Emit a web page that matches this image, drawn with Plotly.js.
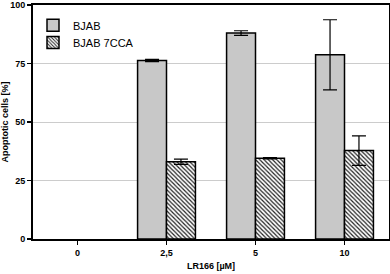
<!DOCTYPE html>
<html><head><meta charset="utf-8">
<script src="https://cdn.plot.ly/plotly-3.0.1.min.js"></script>
<style>body{margin:0;background:#fff}#c{width:390px;height:274px}</style>
</head><body><div id="c"></div>
<script>
const categories = ["0", "2,5", "5", "10"];
const bjab = [0, 76.3, 88, 78.7];
const bjabErr = [0, 0.5, 1.0, 15];
const cca = [0, 33, 34.5, 37.8];
const ccaErr = [0, 1.1, 0.3, 6.3];
const yTicks = [0, 25, 50, 75, 100];

// zero-height bars are not drawn in the original
const hideZero = (vals, ref) => vals.map((d, i) => ref[i] === 0 ? null : d);
const traces = [
  {type: "bar", name: "BJAB", x: categories, y: hideZero(bjab, bjab), legend: "legend",
   marker: {color: "#c8c8c8", line: {color: "#000", width: 1.5}},
   error_y: {type: "data", array: hideZero(bjabErr, bjab), visible: true, color: "#000", thickness: 1.2, width: 7}},
  {type: "bar", name: "BJAB 7CCA", x: categories, y: hideZero(cca, cca), legend: "legend2",
   marker: {color: "#fff", line: {color: "#000", width: 1.5},
     pattern: {shape: "\\", fgcolor: "#222", bgcolor: "#fff", size: 3, solidity: 0.4}},
   error_y: {type: "data", array: hideZero(ccaErr, cca), visible: true, color: "#000", thickness: 1.2, width: 7}}
];
const font = {family: "Liberation Sans, Arial, sans-serif", color: "#000"};
const legFont = {family: font.family, size: 11, color: "#000"};
const layout = {
  width: 390, height: 274,
  margin: {l: 33, r: 1, t: 5, b: 35},
  paper_bgcolor: "#fff", plot_bgcolor: "#fff",
  barmode: "group", bargap: 0.35, bargroupgap: 0,
  font: font,
  showlegend: true,
  legend: {x: 0.0, y: 0.975, xanchor: "left", yanchor: "top", bgcolor: "rgba(0,0,0,0)", font: legFont},
  legend2: {x: 0.0, y: 0.902, xanchor: "left", yanchor: "top", bgcolor: "rgba(0,0,0,0)", font: legFont},
  xaxis: {type: "category", showline: true, linecolor: "#000", linewidth: 2, mirror: true,
    ticks: "outside", ticklen: 4, tickcolor: "#000", tickwidth: 1.5,
    tickfont: {family: font.family, size: 9, color: "#000", weight: "bold"},
    title: {text: "<b>LR166 [µM]</b>", font: {family: font.family, size: 9, color: "#000"}, standoff: 6}},
  yaxis: {range: [0, 100], tickvals: yTicks, showline: true, linecolor: "#000", linewidth: 2, mirror: true,
    ticks: "outside", ticklen: 4, tickcolor: "#000", tickwidth: 1.5,
    showgrid: true, gridcolor: "#cccccc", gridwidth: 1, zeroline: false,
    tickfont: {family: font.family, size: 9, color: "#000", weight: "bold"},
    title: {text: "<b>Apoptotic cells [%]</b>", font: {family: font.family, size: 9, color: "#000"}, standoff: 4}}
};
Plotly.newPlot("c", traces, layout, {displayModeBar: false, staticPlot: true});
</script></body></html>
